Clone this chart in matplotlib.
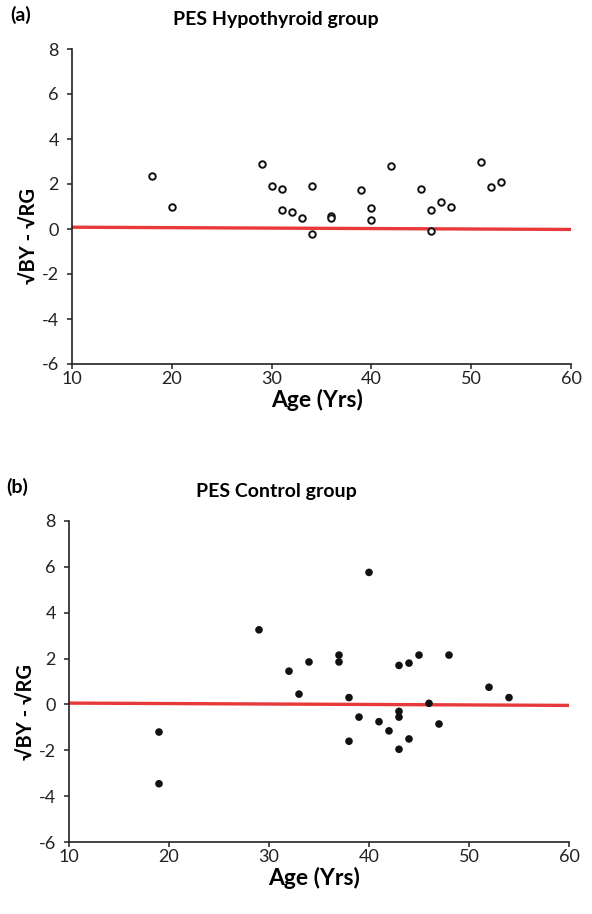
import matplotlib
matplotlib.use("Agg")
import matplotlib.pyplot as plt

plt.rcParams['font.family'] = ['Lato', 'DejaVu Sans']
plt.rcParams['axes.unicode_minus'] = False

# Panel (a): PES Hypothyroid group
hypo_age = [18, 20, 29, 30, 31, 31, 32, 33, 34, 34, 36, 36, 39, 40, 40, 42, 45, 46, 46, 47, 48, 51, 52, 53]
hypo_val = [2.35, 1.0, 2.9, 1.9, 1.8, 0.85, 0.75, 0.5, 1.9, -0.2, 0.58, 0.5, 1.75, 0.95, 0.4, 2.8, 1.8, 0.85, -0.1, 1.2, 1.0, 3.0, 1.85, 2.1]
hypo_trend_x = [10, 60]
hypo_trend_y = [0.08, -0.02]

# Panel (b): PES Control group
ctrl_age = [19, 19, 29, 32, 33, 34, 37, 37, 38, 38, 39, 40, 41, 42, 43, 43, 43, 43, 44, 44, 45, 46, 47, 48, 52, 54]
ctrl_val = [-1.2, -3.45, 3.25, 1.45, 0.45, 1.85, 2.15, 1.85, 0.3, -1.6, -0.55, 5.75, -0.75, -1.15, 1.7, -0.3, -0.55, -1.95, 1.8, -1.5, 2.15, 0.05, -0.85, 2.15, 0.75, 0.3]
ctrl_trend_x = [10, 60]
ctrl_trend_y = [0.06, -0.04]

x_ticks = [10, 20, 30, 40, 50, 60]
y_ticks = [-6, -4, -2, 0, 2, 4, 6, 8]

W, H = 592, 914
fig = plt.figure(figsize=(W / 100, H / 100), dpi=100)

red = '#e8393a'
axcol = '#222222'

def style(ax, h_px):
    ax.set_xlim(10, 60)
    ax.set_ylim(-6, 8)
    ax.set_xticks(x_ticks)
    ax.set_yticks(y_ticks)
    for s in ['top', 'right']:
        ax.spines[s].set_visible(False)
    for s in ['left', 'bottom']:
        ax.spines[s].set_linewidth(1.2)
        ax.spines[s].set_color(axcol)
    ax.tick_params(axis='both', direction='out', length=3.5, width=1.1, color=axcol,
                   labelsize=13, labelcolor='#222222')
    ax.tick_params(axis='x', pad=1.5)
    ax.tick_params(axis='y', pad=6)
    ax.set_xlabel('Age (Yrs)', fontsize=16.5, fontweight='bold', va='center')
    ax.xaxis.set_label_coords(0.491, -36 / h_px)
    ax.set_ylabel('√BY - √RG', fontsize=14.5, fontweight='bold', va='center')
    ax.yaxis.set_label_coords(-0.084, 0.405)

# Top axes
ax1 = fig.add_axes([72 / W, 1 - 364 / H, 499 / W, 315 / H])
style(ax1, 315)
ax1.plot(hypo_trend_x, hypo_trend_y, color=red, lw=2.4, zorder=2, solid_capstyle='butt')
ax1.scatter(hypo_age, hypo_val, s=22, facecolors='white', edgecolors='#111111',
            linewidths=1.4, zorder=3, clip_on=False)

# Bottom axes
ax2 = fig.add_axes([69 / W, 1 - 842.3 / H, 500 / W, 321.6 / H])
style(ax2, 321.6)
ax2.plot(ctrl_trend_x, ctrl_trend_y, color=red, lw=2.4, zorder=2, solid_capstyle='butt')
ax2.scatter(ctrl_age, ctrl_val, s=30, color='#111111', edgecolors='none', zorder=3, clip_on=False)

# Titles and panel letters
fig.text(276 / W, 1 - 20 / H, 'PES Hypothyroid group', ha='center', va='center',
         fontsize=14, fontweight='bold')
fig.text(10 / W, 1 - 15 / H, '(a)', ha='left', va='center', fontsize=14, fontweight='bold')
fig.text(276 / W, 1 - 492 / H, 'PES Control group', ha='center', va='center',
         fontsize=14, fontweight='bold')
fig.text(6 / W, 1 - 487 / H, '(b)', ha='left', va='center', fontsize=14, fontweight='bold')

fig.savefig('out.png', dpi=100, facecolor='white')
